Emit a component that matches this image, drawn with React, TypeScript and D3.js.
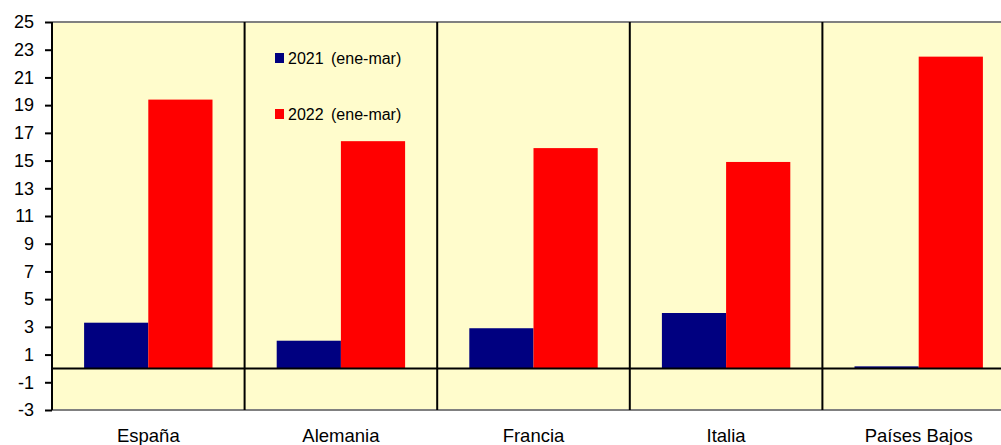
import { useEffect, useRef } from "react";
import * as d3 from "d3";

const categories = ["España", "Alemania", "Francia", "Italia", "Países Bajos"];
const series = ["2021 (ene-mar)", "2022 (ene-mar)"];
const values2021 = [3.3, 2.0, 2.9, 4.0, 0.15];
const values2022 = [19.4, 16.4, 15.9, 14.9, 22.5];
const yTicks = [-3, -1, 1, 3, 5, 7, 9, 11, 13, 15, 17, 19, 21, 23, 25];
const colors = ["#000080", "#FF0000"];

export default function App() {
  const svgRef = useRef<SVGSVGElement>(null);

  useEffect(() => {
    if (!svgRef.current) return;
    const width = 1001;
    const height = 445;
    const margin = { top: 22, right: -14, bottom: 35, left: 52 };
    const innerWidth = width - margin.left - margin.right;
    const innerHeight = height - margin.top - margin.bottom;

    const svg = d3.select(svgRef.current);
    svg.selectAll("*").remove();
    svg.attr("width", width).attr("height", height);

    const g = svg.append("g").attr("transform", `translate(${margin.left},${margin.top})`);

    const x = d3.scaleBand().domain(categories).range([0, innerWidth]).paddingInner(0).paddingOuter(0);
    const inner = d3
      .scaleBand()
      .domain(series)
      .range([x.bandwidth() / 6, (x.bandwidth() * 5) / 6]);
    const y = d3.scaleLinear().domain([-3, 25]).range([innerHeight, 0]);

    g.append("rect")
      .attr("width", innerWidth)
      .attr("height", innerHeight)
      .attr("fill", "#FFFCCC");

    const rows = categories.map((c, i) => ({ c, v: [values2021[i], values2022[i]] }));

    g.selectAll("g.grp")
      .data(rows)
      .join("g")
      .attr("class", "grp")
      .attr("transform", (d) => `translate(${x(d.c)},0)`)
      .selectAll("rect")
      .data((d) => d.v.map((v, j) => ({ v, s: series[j], j })))
      .join("rect")
      .attr("x", (d) => inner(d.s) ?? 0)
      .attr("width", inner.bandwidth())
      .attr("y", (d) => y(Math.max(0, d.v)))
      .attr("height", (d) => Math.abs(y(d.v) - y(0)))
      .attr("fill", (d) => colors[d.j]);

    // borders top & bottom (gray)
    g.append("line").attr("x1", 0).attr("x2", innerWidth).attr("y1", 0).attr("y2", 0)
      .attr("stroke", "#808080").attr("stroke-width", 2);
    g.append("line").attr("x1", 0).attr("x2", innerWidth).attr("y1", innerHeight).attr("y2", innerHeight)
      .attr("stroke", "#808080").attr("stroke-width", 2);

    // category dividers
    g.selectAll("line.div")
      .data(categories.slice(1))
      .join("line")
      .attr("class", "div")
      .attr("x1", (d) => x(d) ?? 0)
      .attr("x2", (d) => x(d) ?? 0)
      .attr("y1", 0)
      .attr("y2", innerHeight)
      .attr("stroke", "#000")
      .attr("stroke-width", 2);

    // zero line
    g.append("line").attr("x1", 0).attr("x2", innerWidth).attr("y1", y(0)).attr("y2", y(0))
      .attr("stroke", "#000").attr("stroke-width", 2);

    // y axis
    const yAxis = g.append("g")
      .call(d3.axisLeft(y).tickValues(yTicks).tickSize(7).tickPadding(11).tickFormat((d) => String(d)));
    yAxis.select(".domain").attr("stroke", "#000").attr("stroke-width", 2).attr("d", `M0,0V${innerHeight}`);
    yAxis.selectAll(".tick line").attr("stroke", "#000").attr("stroke-width", 2);
    yAxis.selectAll("text")
      .attr("fill", "#000")
      .style("font-size", "18px")
      .style("font-family", "Arial, 'Liberation Sans', sans-serif");

    // x labels
    g.selectAll("text.cat")
      .data(categories)
      .join("text")
      .attr("class", "cat")
      .attr("x", (d) => (x(d) ?? 0) + x.bandwidth() / 2)
      .attr("y", innerHeight + 32)
      .attr("text-anchor", "middle")
      .style("font-size", "18.5px")
      .style("font-family", "Arial, 'Liberation Sans', sans-serif")
      .text((d) => d);

    // legend
    const legend = svg.append("g").attr("transform", "translate(275,53)");
    legend.selectAll("g")
      .data(series)
      .join("g")
      .attr("transform", (_, i) => `translate(0,${i * 56})`)
      .call((lg) => {
        lg.append("rect").attr("width", 9).attr("height", 10).attr("fill", (_, i) => colors[i]);
        lg.append("text")
          .attr("x", 13)
          .attr("y", 5)
          .attr("dy", "0.35em")
          .style("font-size", "16px")
          .style("word-spacing", "3px")
          .style("font-family", "Arial, 'Liberation Sans', sans-serif")
          .text((d) => d);
      });
  }, []);

  return (
    <div style={{ position: "absolute", left: 0, top: 0 }}>
      <svg ref={svgRef} style={{ display: "block" }} />
    </div>
  );
}
